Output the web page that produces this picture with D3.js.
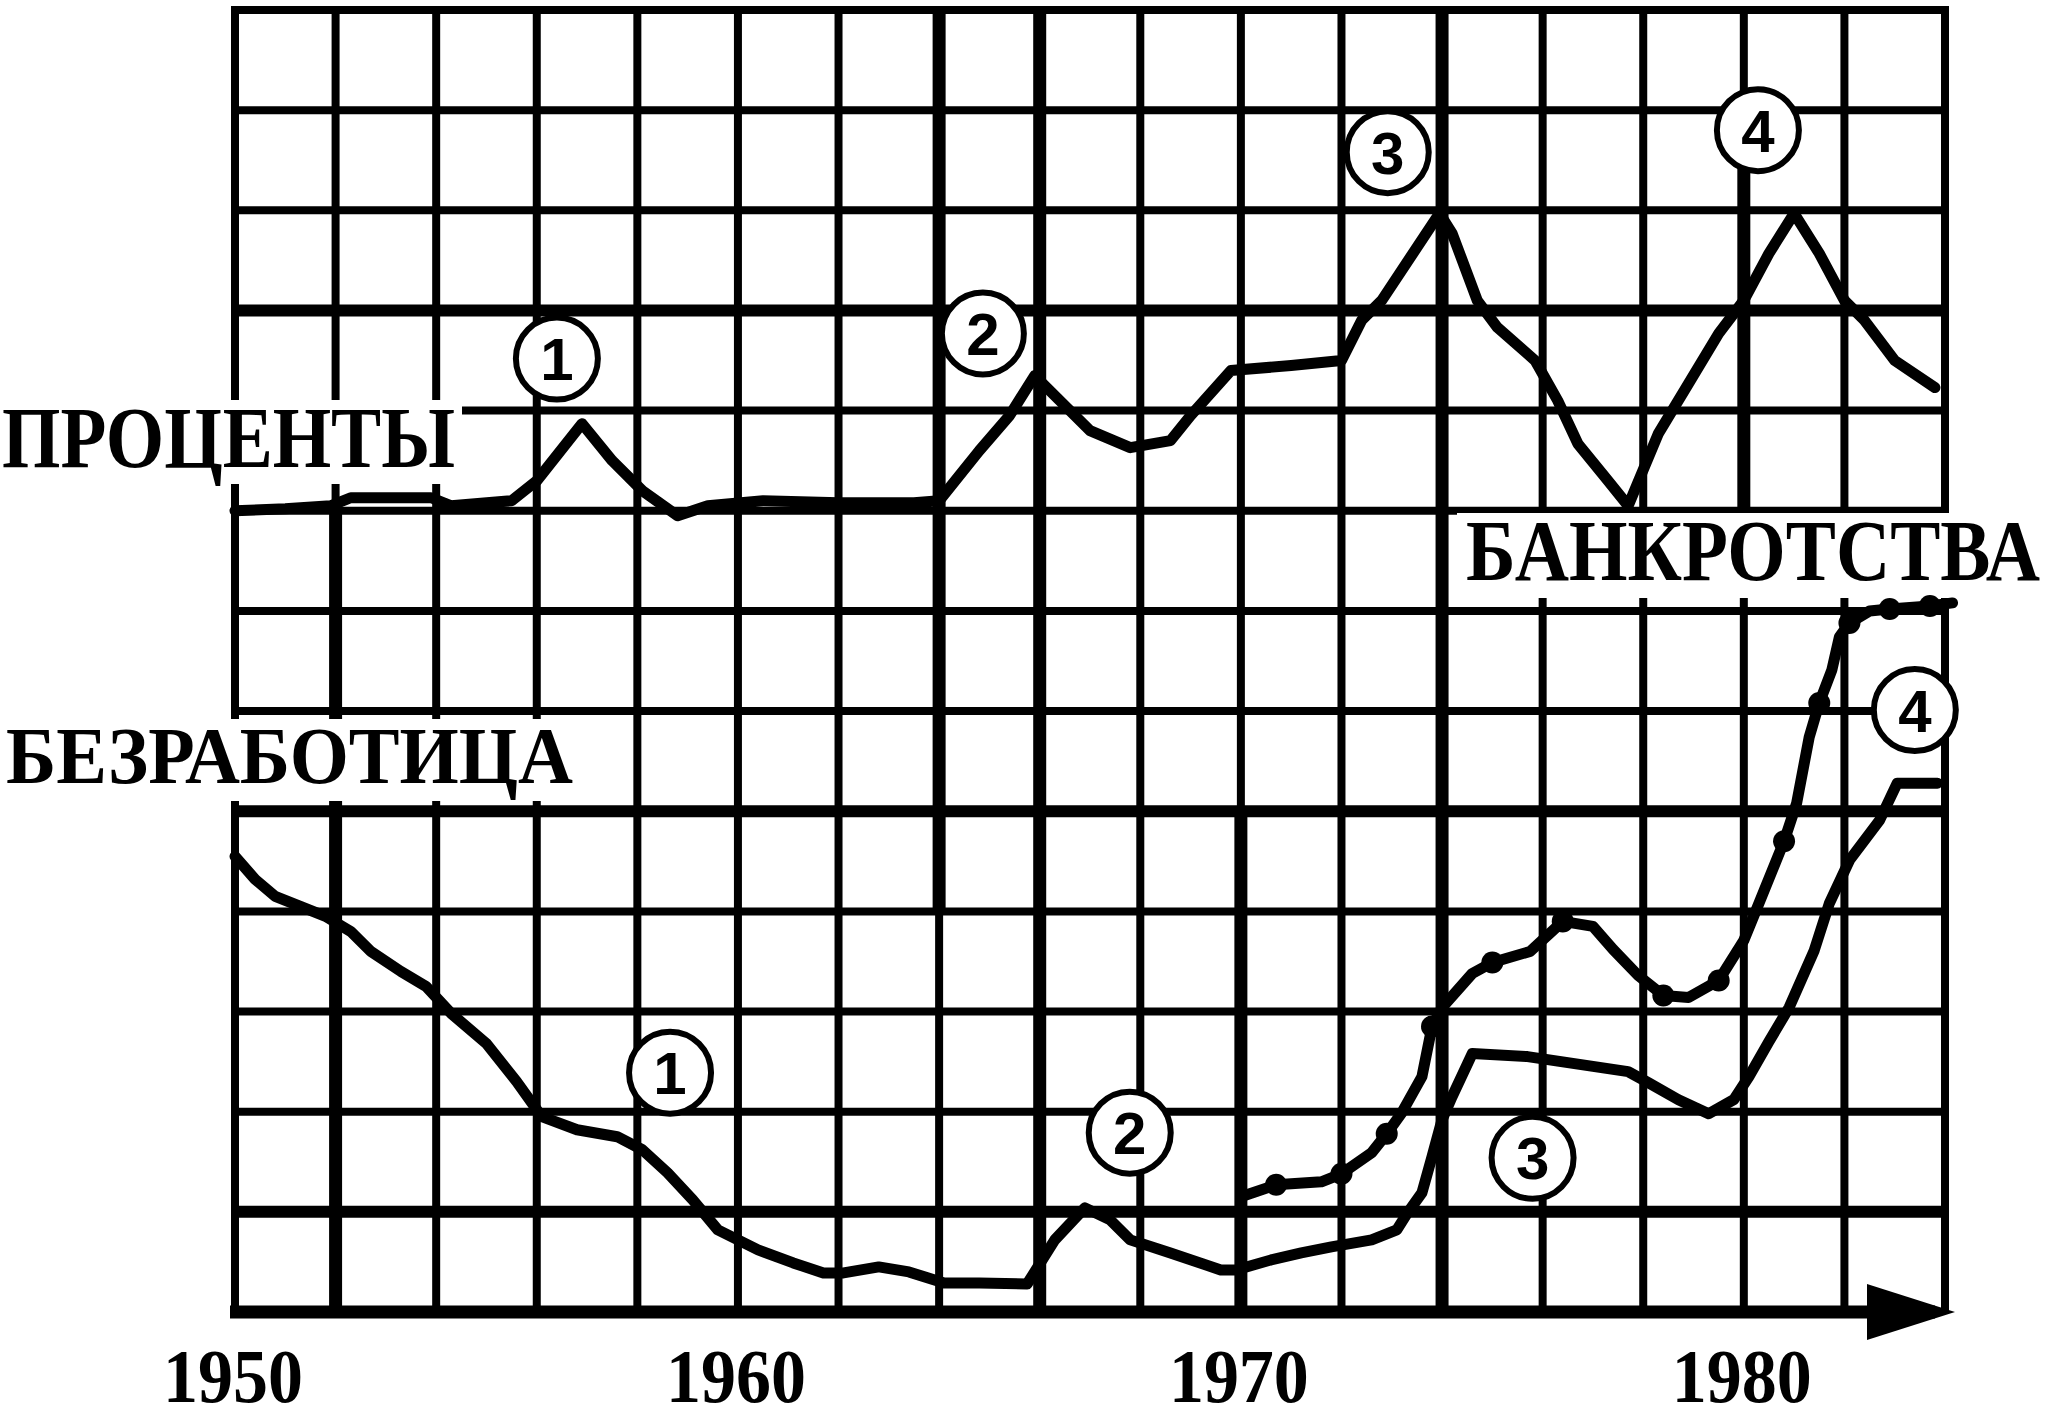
<!DOCTYPE html>
<html>
<head>
<meta charset="utf-8">
<script src="https://cdn.jsdelivr.net/npm/d3@7"></script>
<style>
  html, body { margin: 0; padding: 0; background: #fff; }
  svg { display: block; }
</style>
</head>
<body>
<svg id="chart"></svg>
<script>
// --- values (x in years, y in grid squares above the axis) ---
var rateYears  = [1950, 1951, 1951.9, 1952.3, 1953.9, 1954.3, 1955.5, 1956, 1956.9, 1957.5,
                  1958.1, 1958.8, 1959.4, 1960.5, 1962, 1963.5, 1964, 1964.8, 1965.4, 1965.9,
                  1966.2, 1967, 1967.8, 1968.6, 1969, 1969.8, 1971, 1972, 1972.4, 1972.8,
                  1973.95, 1974.2, 1974.7, 1975.1, 1975.85, 1976.3, 1976.7, 1977.3, 1977.7, 1978.3,
                  1978.9, 1979.5, 1980, 1980.5, 1981, 1981.5, 1982, 1982.4, 1983, 1983.8];
var rateValues = [8.0, 8.02, 8.05, 8.13, 8.13, 8.05, 8.1, 8.3, 8.87, 8.5,
                  8.2, 7.95, 8.05, 8.1, 8.08, 8.08, 8.1, 8.6, 8.95, 9.35,
                  9.2, 8.8, 8.63, 8.7, 8.95, 9.4, 9.45, 9.5, 9.9, 10.1,
                  10.97, 10.77, 10.1, 9.83, 9.5, 9.1, 8.67, 8.3, 8.05, 8.77,
                  9.27, 9.77, 10.1, 10.57, 10.97, 10.57, 10.1, 9.9, 9.5, 9.23];

var unempYears  = [1950, 1950.4, 1950.8, 1951.3, 1951.8, 1952.3, 1952.7, 1953.3, 1953.8, 1954.3,
                   1955, 1955.6, 1956.1, 1956.8, 1957.6, 1958.1, 1958.6, 1959.1, 1959.6, 1960,
                   1960.4, 1961.1, 1961.7, 1962.1, 1962.8, 1963.4, 1964.1, 1964.8, 1965.75, 1966.3,
                   1966.9, 1967.4, 1967.8, 1968.6, 1969.6, 1969.9, 1970.6, 1971.2, 1971.8, 1972.6,
                   1973.1, 1973.3, 1973.6, 1973.8, 1974, 1974.2, 1974.6, 1975.7, 1977.7, 1978.1,
                   1978.7, 1979.3, 1979.8, 1980.1, 1980.5, 1980.9, 1981.4, 1981.7, 1982.1, 1982.7,
                   1983.05, 1983.85];
var unempValues = [4.55, 4.32, 4.15, 4.05, 3.95, 3.8, 3.6, 3.4, 3.25, 2.98,
                   2.68, 2.3, 1.95, 1.82, 1.75, 1.62, 1.39, 1.12, 0.82, 0.72,
                   0.62, 0.49, 0.39, 0.39, 0.45, 0.4, 0.29, 0.29, 0.28, 0.72,
                   1.04, 0.92, 0.72, 0.59, 0.42, 0.42, 0.52, 0.59, 0.65, 0.72,
                   0.82, 0.98, 1.19, 1.55, 1.92, 2.15, 2.58, 2.55, 2.4, 2.29,
                   2.12, 1.98, 2.12, 2.35, 2.7, 3.04, 3.61, 4.08, 4.51, 4.91,
                   5.28, 5.28];

var bankYears  = [1970, 1970.7, 1971.6, 1972, 1972.6, 1972.9, 1973.2, 1973.6, 1973.8, 1974,
                  1974.6, 1975, 1975.75, 1976.4, 1977, 1977.4, 1977.9, 1978.4, 1978.9, 1979.5,
                  1980, 1980.3, 1980.8, 1981.05, 1981.3, 1981.5, 1981.75, 1981.9, 1982.1, 1982.5,
                  1982.9, 1983.7, 1984.15];
var bankValues = [1.15, 1.27, 1.3, 1.38, 1.59, 1.78, 1.99, 2.35, 2.85, 3.04,
                  3.38, 3.49, 3.6, 3.9, 3.85, 3.62, 3.36, 3.16, 3.14, 3.31,
                  3.71, 4.08, 4.7, 5.08, 5.74, 6.08, 6.41, 6.74, 6.88, 7.0,
                  7.02, 7.05, 7.08];
var bankDotYears = [1970.7, 1972, 1972.9, 1973.8, 1975, 1976.4, 1978.4, 1979.5,
                    1980.8, 1981.5, 1982.1, 1982.9, 1983.7];

// numbered cycle markers
var markLabels      = ["1", "2", "3", "4"];
var rateMarkYears   = [1956.4, 1964.87, 1972.92, 1980.28];
var rateMarkLevels  = [9.52, 9.77, 11.58, 11.8];
var unempMarkYears  = [1958.65, 1967.79, 1975.8, 1983.4];
var unempMarkLevels = [2.39, 1.79, 1.54, 6.01];

// heavier grid lines of the drawing: [year, from, to] and [level]
var heavyVerticals = [[1952, 0, 8], [1964, 4, 13], [1966, 0, 13], [1970, 0, 5], [1974, 0, 13], [1980, 8, 12]];
var heavyLevels    = [10, 5, 1];

var yearTicks   = [1950, 1960, 1970, 1980];
var seriesNames = ["ПРОЦЕНТЫ", "БЕЗРАБОТИЦА", "БАНКРОТСТВА"];

function CycleChart(svg) {

  var self = this;
  var INK = "#000";
  var _svg, _grid, _boxes, _curves, _top,
    _width = 2052, _height = 1424,
    _x = d3.scaleLinear().domain([1950, 1984]).range([235, 1945]),
    _y = d3.scaleLinear().domain([0, 13]).range([1312, 10]),
    _line = d3.line()
      .x(function(d) { return _x(d[0]); })
      .y(function(d) { return _y(d[1]); });

  // label boxes hide the grid behind the captions
  var _captions = [
    {text: seriesNames[0], x: 2,    base: 467, size: 86, len: 453, box: [0, 400, 462, 84]},
    {text: seriesNames[1], x: 6,    base: 783, size: 80, len: 567, box: [0, 719, 582, 82]},
    {text: seriesNames[2], x: 1466, base: 580, size: 86, len: 574, box: [1457, 513, 595, 85]}
  ];

  // squeeze a text to the given width with a transform, so its box stays honest
  function squeeze(sel, len) {
    sel.each(function(d) {
      var t = d3.select(this),
        w = this.getComputedTextLength(),
        tx = +t.attr("data-x"), ty = +t.attr("data-y"),
        L = typeof len === "function" ? len(d) : len;
      t.attr("x", 0).attr("y", 0)
        .attr("transform", "translate(" + tx + "," + ty + ") scale(" + (L / w) + ",1)");
    });
  }

  self.render = function() {

    _svg.attr("width", _width).attr("height", _height);

    // grid
    _grid.selectAll(".v").data(d3.range(1950, 1985, 2))
      .enter().append("line")
      .attr("class", "v")
      .attr("x1", function(d) { return _x(d); })
      .attr("x2", function(d) { return _x(d); })
      .attr("y1", _y(0))
      .attr("y2", _y(13) - 4)
      .attr("stroke", INK)
      .attr("stroke-width", 8);

    _grid.selectAll(".h").data(d3.range(1, 14))
      .enter().append("line")
      .attr("class", "h")
      .attr("x1", _x(1950) - 4)
      .attr("x2", _x(1984) + 4)
      .attr("y1", function(d) { return _y(d); })
      .attr("y2", function(d) { return _y(d); })
      .attr("stroke", INK)
      .attr("stroke-width", 8);

    _grid.selectAll(".hv").data(heavyVerticals)
      .enter().append("line")
      .attr("class", "hv")
      .attr("x1", function(d) { return _x(d[0]); })
      .attr("x2", function(d) { return _x(d[0]); })
      .attr("y1", function(d) { return _y(d[1]); })
      .attr("y2", function(d) { return _y(d[2]); })
      .attr("stroke", INK)
      .attr("stroke-width", 13);

    _grid.selectAll(".hh").data(heavyLevels)
      .enter().append("line")
      .attr("class", "hh")
      .attr("x1", _x(1950) - 4)
      .attr("x2", _x(1984) + 4)
      .attr("y1", function(d) { return _y(d); })
      .attr("y2", function(d) { return _y(d); })
      .attr("stroke", INK)
      .attr("stroke-width", 12);

    // axis with arrow
    var y0 = _y(0), tip = _x(1984) + 10;
    _grid.append("line")
      .attr("x1", _x(1950) - 5).attr("x2", tip - 20)
      .attr("y1", y0).attr("y2", y0)
      .attr("stroke", INK).attr("stroke-width", 13);
    _grid.append("path")
      .attr("d", "M" + tip + "," + y0 + "L" + (tip - 88) + "," + (y0 - 28) + "L" + (tip - 88) + "," + (y0 + 28) + "Z")
      .attr("fill", INK);

    _boxes.selectAll("rect").data(_captions)
      .enter().append("rect")
      .attr("x", function(d) { return d.box[0]; })
      .attr("y", function(d) { return d.box[1]; })
      .attr("width", function(d) { return d.box[2]; })
      .attr("height", function(d) { return d.box[3]; })
      .attr("fill", "#fff");

    // curves
    var series = [d3.zip(rateYears, rateValues), d3.zip(unempYears, unempValues), d3.zip(bankYears, bankValues)];
    _curves.selectAll("path").data(series)
      .enter().append("path")
      .attr("d", _line)
      .attr("fill", "none")
      .attr("stroke", INK)
      .attr("stroke-width", 11)
      .attr("stroke-linejoin", "round")
      .attr("stroke-linecap", "round");

    _curves.selectAll(".dot").data(bankDotYears)
      .enter().append("circle")
      .attr("class", "dot")
      .attr("cx", function(d) { return _x(d); })
      .attr("cy", function(d) { return _y(bankValues[bankYears.indexOf(d)]); })
      .attr("r", 11)
      .attr("fill", INK);

    // captions
    _top.selectAll(".caption").data(_captions)
      .enter().append("text")
      .attr("class", "caption")
      .attr("data-x", function(d) { return d.x; })
      .attr("data-y", function(d) { return d.base; })
      .style("font-family", "'Liberation Serif', 'DejaVu Serif', serif")
      .style("font-weight", "bold")
      .style("font-size", function(d) { return d.size + "px"; })
      .attr("fill", INK)
      .text(function(d) { return d.text; })
      .call(squeeze, function(d) { return d.len; });

    // numbered circles
    var marks = d3.zip(rateMarkYears, rateMarkLevels, markLabels)
      .concat(d3.zip(unempMarkYears, unempMarkLevels, markLabels));
    var m = _top.selectAll(".mark").data(marks)
      .enter().append("g")
      .attr("class", "mark")
      .attr("transform", function(d) { return "translate(" + _x(d[0]) + "," + _y(d[1]) + ")"; });
    m.append("circle")
      .attr("r", 41)
      .attr("fill", "#fff")
      .attr("stroke", INK)
      .attr("stroke-width", 6);
    m.append("text")
      .attr("text-anchor", "middle")
      .attr("dy", "0.36em")
      .style("font-family", "'Liberation Sans', 'DejaVu Sans', sans-serif")
      .style("font-weight", "bold")
      .style("font-size", "60px")
      .attr("fill", INK)
      .text(function(d) { return d[2]; });

    // year labels
    _top.selectAll(".year").data(yearTicks)
      .enter().append("text")
      .attr("class", "year")
      .attr("data-x", function(d) { return _x(d) - 72; })
      .attr("data-y", 1402)
      .style("font-family", "'Liberation Serif', 'DejaVu Serif', serif")
      .style("font-weight", "bold")
      .style("font-size", "76px")
      .attr("fill", INK)
      .text(function(d) { return d; })
      .call(squeeze, 140);
  };

  function init(svg) {
    _svg = d3.select(svg);
    _svg.append("rect").attr("width", _width).attr("height", _height).attr("fill", "#fff");
    _grid = _svg.append("g");
    _boxes = _svg.append("g");
    _curves = _svg.append("g");
    _top = _svg.append("g");
  }

  init(svg);
}

var chart = new CycleChart("#chart");
chart.render();
</script>
</body>
</html>
